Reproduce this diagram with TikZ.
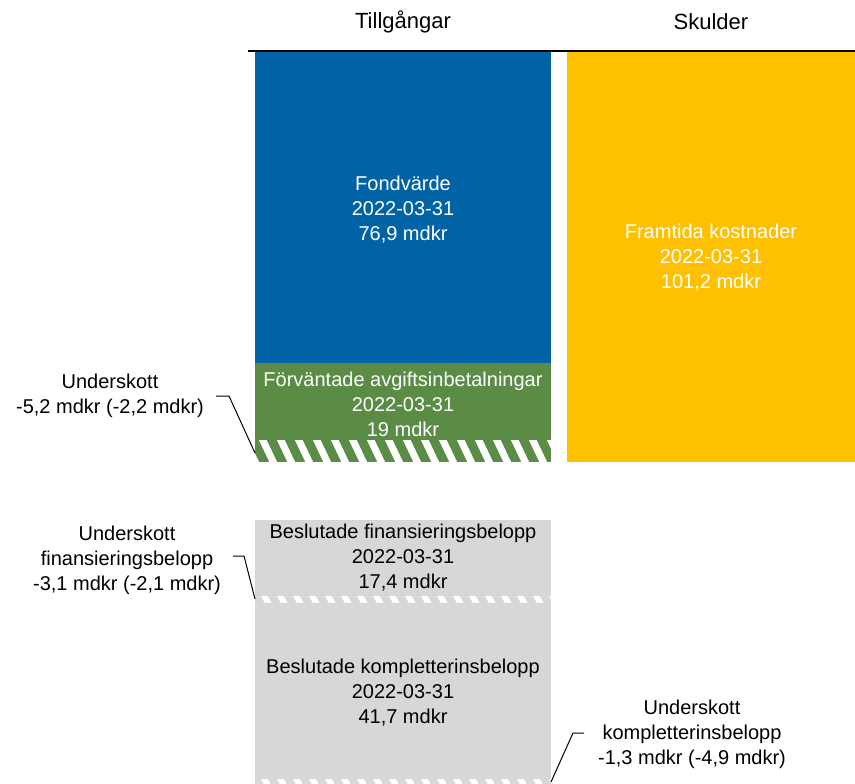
\documentclass[tikz,border=0pt]{standalone}
\usepackage{fontspec}
\setmainfont{Liberation Sans}
\definecolor{fblue}{RGB}{0,99,166}
\definecolor{fyellow}{RGB}{255,192,0}
\definecolor{fgreen}{RGB}{91,140,69}
\definecolor{fgray}{RGB}{215,215,215}
\begin{document}
\begin{tikzpicture}[x=1pt,y=-1pt,
  txt/.style={font=\fontsize{20}{25}\selectfont,align=center,inner sep=0pt},
  head/.style={font=\fontsize{22}{25}\selectfont,inner sep=0pt},
  wtxt/.style={txt,text=white},
  leader/.style={draw=black,line width=1pt},
  stripe/.style={white,line width=7pt}]
\useasboundingbox (0,0) rectangle (855,784);
% blocks
\fill[fblue] (255,52) rectangle (551,363);
\fill[fyellow] (567,52) rectangle (855,462);
\fill[fgreen] (255,363) rectangle (551,462);
\fill[fgray] (255,520) rectangle (551,784);
% hatches
\begin{scope}
\clip (255,440) rectangle (551,462);
\foreach \i in {0,...,18} \draw[stripe] (240+\i*18,430) -- (260+\i*18,472);
\end{scope}
\begin{scope}
\clip (255,596) rectangle (551,602);
\foreach \i in {0,...,20} \draw[white,line width=6pt] (245+\i*16,590) -- (255+\i*16,608);
\end{scope}
\begin{scope}
\clip (255,779) rectangle (551,784);
\foreach \i in {0,...,20} \draw[white,line width=6pt] (245+\i*16,773) -- (255+\i*16,791);
\end{scope}
% header line
\draw[line width=1.5pt] (248,51) -- (855,51);
\node[head] (hA) at (403,22) {Tillgångar};
\node[head] (hL) at (711,22) {Skulder};
% texts
\node[wtxt] (fond) at (403,210) {Fondvärde\\2022-03-31\\76,9 mdkr};
\node[wtxt] (framt) at (711,258) {Framtida kostnader\\2022-03-31\\101,2 mdkr};
\node[wtxt] (forv) at (403,404) {Förväntade avgiftsinbetalningar\\2022-03-31\\19 mdkr};
\node[txt] (besf) at (403,558) {Beslutade finansieringsbelopp\\2022-03-31\\17,4 mdkr};
\node[txt] (besk) at (403,693) {Beslutade kompletterinsbelopp\\2022-03-31\\41,7 mdkr};
% side labels
\node[txt] (u1) at (110,396) {Underskott\\-5,2 mdkr (-2,2 mdkr)};
\node[txt] (u2) at (127,560) {Underskott\\finansieringsbelopp\\-3,1 mdkr (-2,1 mdkr)};
\node[txt] (u3) at (692,734) {Underskott\\kompletterinsbelopp\\-1,3 mdkr (-4,9 mdkr)};
% leader points
\coordinate (h1) at (255,453);
\coordinate (h2) at (255,599);
\coordinate (h3) at (551,782);
\coordinate (a1) at (216,396);
\coordinate (b1) at (229,396);
\coordinate (a2) at (233,556);
\coordinate (b2) at (244,556);
\coordinate (a3) at (584,733);
\coordinate (b3) at (573,733);
\draw[leader] (a1) -- (b1) -- (h1);
\draw[leader] (a2) -- (b2) -- (h2);
\draw[leader] (a3) -- (b3) -- (h3);
\end{tikzpicture}
\end{document}
